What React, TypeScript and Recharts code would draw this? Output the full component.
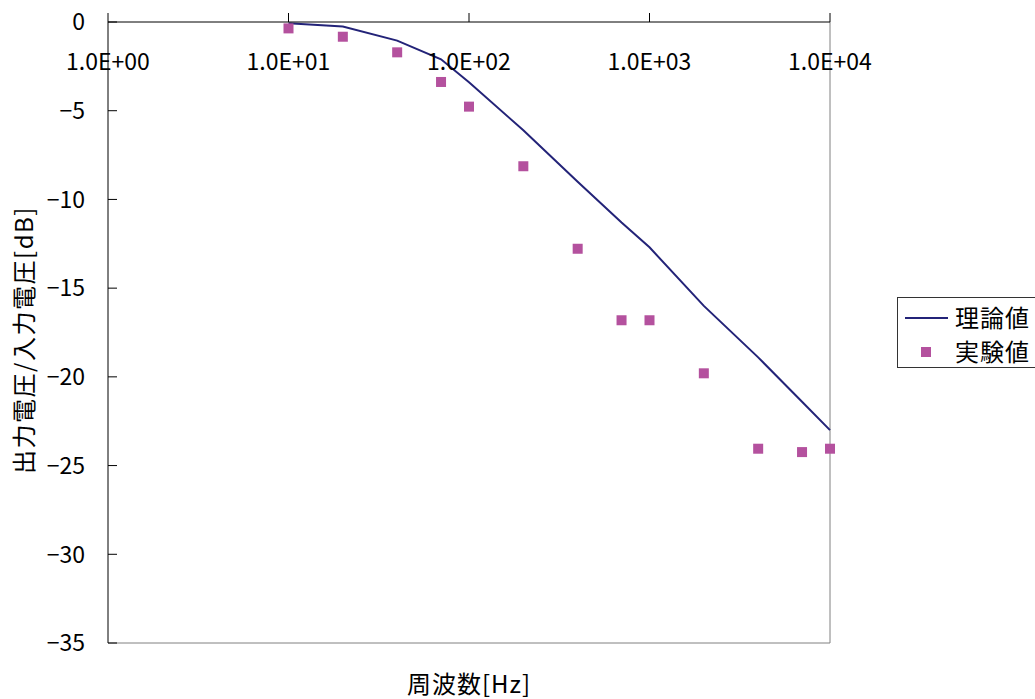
import {
  ComposedChart,
  Line,
  Scatter,
  XAxis,
  YAxis,
  ReferenceLine,
  Legend,
} from 'recharts';

const FONT = '"Noto Sans CJK JP", "Noto Sans", sans-serif';

// 周波数 [Hz]
const FREQS = [10, 20, 40, 70, 100, 200, 400, 700, 1000, 2000, 4000, 7000, 10000];
// 理論値 [dB]
const THEORY = [-0.07, -0.26, -1.05, -2.1, -3.4, -6.1, -9.0, -11.3, -12.7, -16.0, -18.9, -21.4, -23.0];
// 実験値 [dB]
const MEASURED = [-0.36, -0.83, -1.71, -3.38, -4.77, -8.13, -12.78, -16.81, -16.81, -19.8, -24.05, -24.24, -24.05];

const X_TICKS = [1, 10, 100, 1000, 10000];
const X_TICK_LABELS = ['1.0E+00', '1.0E+01', '1.0E+02', '1.0E+03', '1.0E+04'];
const Y_TICKS = [0, -5, -10, -15, -20, -25, -30, -35];

const SERIES_NAMES = ['理論値', '実験値'];
const LINE_COLOR = '#232378';
const MARK_COLOR = '#B4519E';

const rows = FREQS.map((f, i) => ({ f, theory: THEORY[i], measured: MEASURED[i] }));

// x ticks: short mark above the axis, label hanging below it
function FreqTick(props: any) {
  const { x, y, payload } = props;
  const idx = X_TICKS.indexOf(payload.value);
  return (
    <g>
      <line x1={x} x2={x} y1={y - 9} y2={y} stroke="#000" />
      <text x={x} y={y + 48} textAnchor="middle" fontSize={23} fontFamily={FONT} fill="#000">
        {X_TICK_LABELS[idx]}
      </text>
    </g>
  );
}

// y ticks: mark points into the plot, label stays outside
function DbTick(props: any) {
  const { x, y, payload } = props;
  const v = Number(payload.value);
  const label = v < 0 ? `\u2212${Math.abs(v)}` : String(v);
  return (
    <g>
      <line x1={x} x2={x + 9} y1={y} y2={y} stroke="#000" />
      <text x={x - 23} y={y} dy="0.36em" textAnchor="end" fontSize={23} fontFamily={FONT} fill="#000">
        {label}
      </text>
    </g>
  );
}

function SquareDot(props: any) {
  const { cx, cy } = props;
  return <rect x={cx - 5} y={cy - 5} width={10} height={10} fill={MARK_COLOR} />;
}

function LegendBox() {
  return (
    <svg width={150} height={72} style={{ display: 'block' }}>
      <rect x={0.5} y={0.5} width={148} height={70} fill="#fff" stroke="#333" />
      <line x1={8} x2={51} y1={21} y2={21} stroke={LINE_COLOR} strokeWidth={2} />
      <text x={58} y={21} dy="0.38em" fontSize={24} fontFamily={FONT} letterSpacing={1}>
        {SERIES_NAMES[0]}
      </text>
      <rect x={24} y={50} width={10} height={10} fill={MARK_COLOR} />
      <text x={58} y={55} dy="0.38em" fontSize={24} fontFamily={FONT} letterSpacing={1}>
        {SERIES_NAMES[1]}
      </text>
    </svg>
  );
}

export default function App() {
  return (
    <div
      style={{
        position: 'absolute',
        left: 0,
        top: 0,
        width: 1035,
        height: 699,
        overflow: 'hidden',
        background: '#fff',
        fontFamily: FONT,
      }}
    >
      <ComposedChart
        width={1035}
        height={699}
        data={rows}
        margin={{ top: 21, left: 107, right: 205, bottom: 56 }}
      >
        <XAxis
          dataKey="f"
          type="number"
          scale="log"
          domain={[1, 10000]}
          ticks={X_TICKS}
          orientation="top"
          height={1}
          tickSize={0}
          tickMargin={0}
          tickLine={false}
          axisLine={{ stroke: '#000' }}
          tick={<FreqTick />}
          interval={0}
        />
        <YAxis
          type="number"
          domain={[-35, 0]}
          ticks={Y_TICKS}
          width={1}
          tickSize={0}
          tickMargin={0}
          tickLine={false}
          axisLine={{ stroke: '#000' }}
          tick={<DbTick />}
          interval={0}
        />
        <ReferenceLine x={10000} stroke="#808080" />
        <ReferenceLine y={-35} stroke="#808080" />
        <Line
          dataKey="theory"
          name={SERIES_NAMES[0]}
          stroke={LINE_COLOR}
          strokeWidth={2}
          dot={false}
          type="linear"
          isAnimationActive={false}
        />
        <Scatter
          dataKey="measured"
          name={SERIES_NAMES[1]}
          fill={MARK_COLOR}
          shape={<SquareDot />}
          isAnimationActive={false}
        />
        <Legend
          align="center"
          verticalAlign="middle"
          content={() => <LegendBox />}
          wrapperStyle={{ left: 897, top: 297, width: 150 }}
        />
      </ComposedChart>
      <div
        style={{
          position: 'absolute',
          left: 23,
          top: 340,
          transform: 'translate(-50%, -50%) rotate(-90deg)',
          whiteSpace: 'nowrap',
          fontSize: 24,
          letterSpacing: 1.5,
          lineHeight: 1,
        }}
      >
        出力電圧/入力電圧[dB]
      </div>
      <div
        style={{
          position: 'absolute',
          left: 469,
          top: 683,
          transform: 'translate(-50%, -50%)',
          whiteSpace: 'nowrap',
          fontSize: 24,
          letterSpacing: 1,
          lineHeight: 1,
        }}
      >
        周波数[Hz]
      </div>
    </div>
  );
}
